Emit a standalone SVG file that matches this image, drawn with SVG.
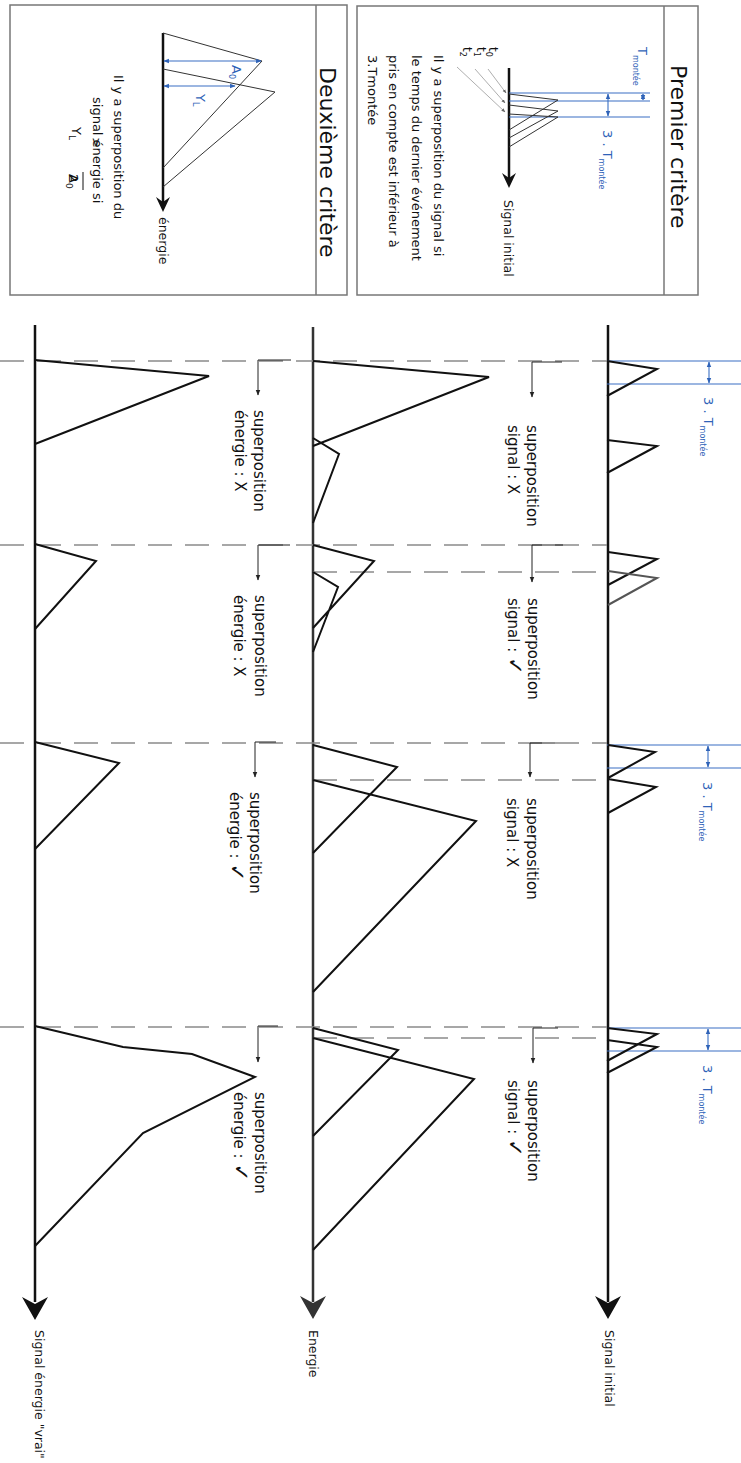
<svg xmlns="http://www.w3.org/2000/svg" width="741" height="1463" viewBox="0 0 741 1463">
<defs>
<style>
text{font-family:"DejaVu Sans","Liberation Sans",sans-serif;fill:#111}
.title{font-size:22px}
.ptxt{font-size:13px}
.lbl{font-size:15px}
.ck{font-size:21px}
.ax{font-size:12.5px}
.blue{fill:#2f63b8}
.sub{font-size:8px}
.axis{stroke:#111;stroke-width:2.5;fill:none}
.pulse{stroke:#111;stroke-width:2;fill:none;stroke-linejoin:miter}
.thin{stroke:#333;stroke-width:1;fill:none}
.dash{stroke:#8a8a8a;stroke-width:1.6;stroke-dasharray:24 13;fill:none}
.bl{stroke:#3a6fc4;stroke-width:1.1;fill:none}
.ell{stroke:#222;stroke-width:1;fill:none;marker-end:url(#ah)}
.box{fill:none;stroke:#777;stroke-width:1.5}
</style>
<marker id="ah" viewBox="0 0 10 10" refX="9" refY="5" markerWidth="6" markerHeight="6" orient="auto"><path d="M0,1 L10,5 L0,9 Z" fill="#222"/></marker>
<marker id="bh" viewBox="0 0 10 10" refX="9" refY="5" markerWidth="5" markerHeight="5" orient="auto-start-reverse"><path d="M0,1 L10,5 L0,9 Z" fill="#2f63b8"/></marker>
<marker id="gh" viewBox="0 0 10 10" refX="9" refY="5" markerWidth="5" markerHeight="5" orient="auto"><path d="M0,1 L10,5 L0,9 Z" fill="#666"/></marker>
</defs>

<!-- Panel 1: Premier critère -->
<g id="panel-premier">
<rect class="box" x="357" y="6" width="341" height="289"/>
<line class="box" x1="664" y1="6" x2="664" y2="295"/>
<text class="title" transform="translate(671,65) rotate(90)">Premier critère</text>
<line class="axis" x1="509" y1="68" x2="509" y2="178"/>
<path d="M509,188 L502,173 L509,178 L516,173 Z" fill="#111"/>
<text class="ax" transform="translate(504,200) rotate(90)">Signal initial</text>
<line class="bl" x1="509" y1="93" x2="650" y2="93"/>
<line class="bl" x1="509" y1="101" x2="650" y2="101"/>
<line class="bl" x1="509" y1="117" x2="650" y2="117"/>
<line class="bl" x1="643" y1="94" x2="643" y2="100" marker-start="url(#bh)" marker-end="url(#bh)"/>
<line class="bl" x1="608" y1="94" x2="608" y2="116" marker-start="url(#bh)" marker-end="url(#bh)"/>
<text class="blue" font-size="13" transform="translate(638,47) rotate(90)">T<tspan class="sub" dy="5">montée</tspan></text>
<text class="blue" font-size="13" transform="translate(603,130) rotate(90)">3 . T<tspan class="sub" dy="4">montée</tspan></text>
<path class="thin" d="M509,94 L558,100 L509,130 M509,105 L558,111 L509,138 M509,114 L558,117 L509,147"/>
<line stroke="#999" stroke-width="0.8" x1="488" y1="69" x2="506" y2="93" marker-end="url(#gh)"/>
<line stroke="#999" stroke-width="0.8" x1="475" y1="69" x2="505" y2="103" marker-end="url(#gh)"/>
<line stroke="#999" stroke-width="0.8" x1="457" y1="67" x2="505" y2="112" marker-end="url(#gh)"/>
<text font-size="12" transform="translate(489,47) rotate(90)">t<tspan class="sub" dy="3">0</tspan></text>
<text font-size="12" transform="translate(477,47) rotate(90)">t<tspan class="sub" dy="3">1</tspan></text>
<text font-size="12" transform="translate(463,47) rotate(90)">t<tspan class="sub" dy="3">2</tspan></text>
<text class="ptxt" transform="translate(434,55) rotate(90)">Il y a superposition du signal si</text>
<text class="ptxt" transform="translate(412,55) rotate(90)">le temps du dernier événement</text>
<text class="ptxt" transform="translate(389,55) rotate(90)">pris en compte est inférieur à</text>
<text class="ptxt" transform="translate(368,55) rotate(90)">3.Tmontée</text>
</g>

<!-- Panel 2: Deuxième critère -->
<g id="panel-deuxieme">
<rect class="box" x="10" y="5" width="337" height="290"/>
<line class="box" x1="316" y1="5" x2="316" y2="295"/>
<text class="title" transform="translate(320,67) rotate(90)">Deuxième critère</text>
<line class="axis" x1="163" y1="33" x2="163" y2="202"/>
<path d="M163,212 L156,197 L163,202 L170,197 Z" fill="#111"/>
<text class="ax" font-size="12" transform="translate(159,217) rotate(90)">énergie</text>
<path class="thin" d="M163,33 L262,61 L163,168 M163,69 L275,92 L163,187"/>
<line class="bl" x1="164" y1="61" x2="261" y2="61" marker-start="url(#bh)" marker-end="url(#bh)"/>
<line class="bl" x1="164" y1="86" x2="235" y2="86" marker-start="url(#bh)" marker-end="url(#bh)"/>
<text class="blue" font-size="13" transform="translate(232,65) rotate(90)">A<tspan class="sub" font-size="9" dy="3">0</tspan></text>
<text class="blue" font-size="13" transform="translate(196,94) rotate(90)">Y<tspan class="sub" font-size="9" dy="3">L</tspan></text>
<text class="ptxt" transform="translate(114,75) rotate(90)">Il y a superposition du</text>
<text class="ptxt" transform="translate(93,97) rotate(90)">signal énergie si</text>
<text class="ptxt" transform="translate(92,137) rotate(90)">&gt;</text>
<text class="ptxt" transform="translate(72,127) rotate(90)">Y<tspan font-size="9" dy="3">L</tspan></text>
<line stroke="#111" stroke-width="1" x1="83" y1="172" x2="83" y2="190"/>
<text class="ptxt" transform="translate(69,174) rotate(90)">A<tspan font-size="9" dy="3">0</tspan></text>
<text class="ptxt" transform="translate(69,174) rotate(90)">2</text>
</g>

<!-- Axes -->
<g id="axis-energie-vrai">
<line class="axis" x1="35" y1="325" x2="35" y2="1302"/>
<path d="M35,1320 L22,1297 L35,1304 L48,1297 Z" fill="#111"/>
<text class="ax" transform="translate(35,1330) rotate(90)">Signal énergie "vrai"</text>
</g>
<g id="axis-energie">
<line class="axis" style="stroke:#333" x1="313" y1="327" x2="313" y2="1302"/>
<path d="M313,1319 L300,1296 L313,1303 L326,1296 Z" fill="#333"/>
<text class="ax" transform="translate(309,1330) rotate(90)">Energie</text>
</g>
<g id="axis-signal">
<line class="axis" x1="608" y1="325" x2="608" y2="1302"/>
<path d="M608,1319 L595,1296 L608,1303 L621,1296 Z" fill="#111"/>
<text class="ax" transform="translate(605,1330) rotate(90)">Signal initial</text>
</g>

<!-- Dashed guides and L-arrows -->
<g id="connectors">
<line class="dash" x1="0" y1="361" x2="607" y2="361"/>
<line class="dash" x1="0" y1="545" x2="607" y2="545"/>
<line class="dash" x1="313" y1="572" x2="607" y2="572"/>
<line class="dash" x1="0" y1="743" x2="607" y2="743"/>
<line class="dash" x1="313" y1="780" x2="607" y2="780"/>
<line class="dash" x1="0" y1="1027" x2="607" y2="1027"/>
<line class="dash" x1="313" y1="1038" x2="607" y2="1038"/>
<path class="ell" d="M562,362 L532,362 L532,397"/>
<path class="ell" d="M291,360 L258,360 L258,395"/>
<path class="ell" d="M563,545 L532,545 L532,582"/>
<path class="ell" d="M290,545 L258,545 L258,580"/>
<path class="ell" d="M555,743 L530,743 L530,777"/>
<path class="ell" d="M276,742 L255,742 L255,777"/>
<path class="ell" d="M558,1028 L533,1028 L533,1063"/>
<path class="ell" d="M278,1026 L258,1026 L258,1062"/>
<line class="bl" x1="607" y1="361" x2="741" y2="361"/>
<line class="bl" x1="607" y1="384" x2="741" y2="384"/>
<line class="bl" x1="709" y1="362" x2="709" y2="383" marker-start="url(#bh)" marker-end="url(#bh)"/>
<line class="bl" x1="607" y1="745" x2="741" y2="745"/>
<line class="bl" x1="607" y1="768" x2="741" y2="768"/>
<line class="bl" x1="708" y1="746" x2="708" y2="767" marker-start="url(#bh)" marker-end="url(#bh)"/>
<line class="bl" x1="607" y1="1028" x2="741" y2="1028"/>
<line class="bl" x1="607" y1="1051" x2="741" y2="1051"/>
<line class="bl" x1="708" y1="1029" x2="708" y2="1050" marker-start="url(#bh)" marker-end="url(#bh)"/>
</g>

<!-- Event 1 -->
<g id="event1">
<path class="pulse" d="M607,361 L657,369 L607,396 M607,440 L657,446 L607,473"/>
<path class="pulse" d="M313,361 L489,377 L313,446 M313,438 L339,454 L313,523"/>
<path class="pulse" d="M35,360 L209,376 L35,444"/>
<text class="blue" font-size="13" transform="translate(704,397) rotate(90)">3 . T<tspan class="sub" dy="4">montée</tspan></text>
<text class="lbl" transform="translate(527,425) rotate(90)">superposition</text>
<text class="lbl" transform="translate(508,425) rotate(90)">signal : X</text>
<text class="lbl" transform="translate(254,410) rotate(90)">superposition</text>
<text class="lbl" transform="translate(235,410) rotate(90)">énergie : X</text>
</g>

<!-- Event 2 -->
<g id="event2">
<path class="pulse" d="M608,552 L657,559 L608,585"/>
<path class="pulse" style="stroke:#555" d="M608,571 L657,578 L608,605"/>
<path class="pulse" d="M313,545 L374,561 L313,628 M313,572 L338,587 L313,652"/>
<path class="pulse" d="M35,544 L96,561 L35,629"/>
<text class="lbl" transform="translate(528,598) rotate(90)">superposition</text>
<text class="lbl" transform="translate(508,598) rotate(90)">signal : <tspan class="ck">✓</tspan></text>
<text class="lbl" transform="translate(255,595) rotate(90)">superposition</text>
<text class="lbl" transform="translate(234,595) rotate(90)">énergie : X</text>
</g>

<!-- Event 3 -->
<g id="event3">
<path class="pulse" d="M608,745 L655,752 L608,778 M608,779 L656,787 L608,813"/>
<path class="pulse" d="M313,745 L397,767 L313,853 M313,780 L476,821 L313,992"/>
<path class="pulse" d="M35,742 L119,763 L35,849"/>
<text class="blue" font-size="13" transform="translate(703,782) rotate(90)">3 . T<tspan class="sub" dy="4">montée</tspan></text>
<text class="lbl" transform="translate(527,798) rotate(90)">superposition</text>
<text class="lbl" transform="translate(507,798) rotate(90)">signal : X</text>
<text class="lbl" transform="translate(250,792) rotate(90)">superposition</text>
<text class="lbl" transform="translate(230,792) rotate(90)">énergie : <tspan class="ck">✓</tspan></text>
</g>

<!-- Event 4 -->
<g id="event4">
<path class="pulse" d="M607,1028 L657,1034 L607,1061 M607,1040 L657,1047 L607,1073"/>
<path class="pulse" d="M313,1028 L398,1050 L313,1136 M313,1038 L474,1079 L313,1250"/>
<path class="pulse" d="M35,1026 L123,1047 L192,1054 L255,1077 L143,1133 L35,1246"/>
<text class="blue" font-size="13" transform="translate(703,1065) rotate(90)">3 . T<tspan class="sub" dy="4">montée</tspan></text>
<text class="lbl" transform="translate(528,1080) rotate(90)">superposition</text>
<text class="lbl" transform="translate(508,1080) rotate(90)">signal : <tspan class="ck">✓</tspan></text>
<text class="lbl" transform="translate(255,1092) rotate(90)">superposition</text>
<text class="lbl" transform="translate(234,1092) rotate(90)">énergie : <tspan class="ck">✓</tspan></text>
</g>
</svg>
